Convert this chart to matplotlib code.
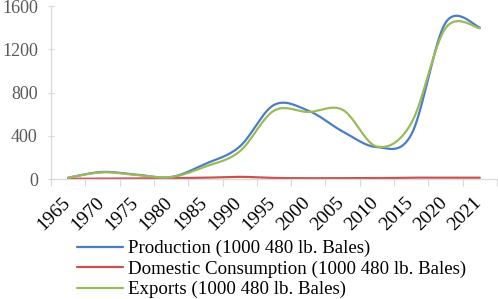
import numpy as np
import matplotlib
matplotlib.use("Agg")
import matplotlib.pyplot as plt
import matplotlib.transforms as mtransforms

years = ["1965", "1970", "1975", "1980", "1985", "1990", "1995",
         "2000", "2005", "2010", "2015", "2020", "2021"]
production = [12, 65, 40, 18, 140, 300, 685, 632, 440, 295, 410, 1445, 1401]
consumption = [2, 3, 5, 8, 12, 20, 10, 7, 8, 8, 12, 12, 12]
exports = [12, 62, 37, 18, 115, 255, 632, 620, 640, 300, 515, 1395, 1395]

labels = ["Production (1000 480 lb. Bales)",
          "Domestic Consumption (1000 480 lb. Bales)",
          "Exports (1000 480 lb. Bales)"]
colors = ["#4A7EC4", "#C9504D", "#9BBB59"]


def smooth(vals, n=40):
    """Excel-style smoothed line (Catmull-Rom Bezier through each point)."""
    P = np.column_stack([np.arange(len(vals), dtype=float), np.asarray(vals, float)])
    xs, ys = [], []
    t = np.linspace(0, 1, n)
    for i in range(len(P) - 1):
        p0 = P[i - 1] if i > 0 else P[i]
        p1 = P[i]
        p2 = P[i + 1]
        p3 = P[i + 2] if i + 2 < len(P) else P[i + 1]
        c1 = p1 + (p2 - p0) / 6.0
        c2 = p2 - (p3 - p1) / 6.0
        b = ((1 - t) ** 3)[:, None] * p1 + (3 * t * (1 - t) ** 2)[:, None] * c1 \
            + (3 * t ** 2 * (1 - t))[:, None] * c2 + (t ** 3)[:, None] * p2
        xs.append(b[:, 0])
        ys.append(b[:, 1])
    return np.concatenate(xs), np.concatenate(ys)


plt.rcParams['font.family'] = ['Liberation Serif', 'DejaVu Serif']

fig = plt.figure(figsize=(4.98, 2.99), dpi=100)
ax = fig.add_axes([51 / 498, 1 - 179 / 299, (497 - 51) / 498, (179 - 6) / 299])

for vals, lab, col in zip([production, consumption, exports], labels, colors):
    sx, sy = smooth(vals)
    ax.plot(sx, sy, color=col, lw=1.6, label=lab, solid_capstyle='round')

ax.set_xlim(-0.5, len(years) - 0.5)
ax.set_ylim(0, 1600)
ax.set_yticks([0, 400, 800, 1200, 1600])
ax.tick_params(axis='y', direction='inout', length=5, width=0.8, color='#D9D9D9',
               labelsize=13, labelcolor='#595959', pad=7)

ax.set_xticks(np.arange(len(years)))
ax.set_xticklabels(years, rotation=45, ha='right', va='top', fontsize=14, color='#000000')
ax.tick_params(axis='x', which='major', length=0, pad=11)
ax.set_xticks(np.arange(len(years) + 1) - 0.5, minor=True)
ax.tick_params(axis='x', which='minor', direction='out', length=5, width=0.8, color='#D9D9D9')
offset = mtransforms.ScaledTranslation(5 / 100, 0, fig.dpi_scale_trans)
for lbl in ax.get_xticklabels():
    lbl.set_transform(lbl.get_transform() + offset)

for s in ['top', 'right']:
    ax.spines[s].set_visible(False)
ax.spines['left'].set_color('#D9D9D9')
ax.spines['bottom'].set_color('#D9D9D9')
ax.spines['left'].set_linewidth(0.9)
ax.spines['bottom'].set_linewidth(0.9)

fig.legend(loc='upper left', bbox_to_anchor=(77 / 498, 1 - 240 / 299),
           frameon=False, fontsize=13.6, handlelength=2.45, handletextpad=0.27,
           labelspacing=0.17, borderpad=0, borderaxespad=0)

fig.savefig("out.png", dpi=100)
